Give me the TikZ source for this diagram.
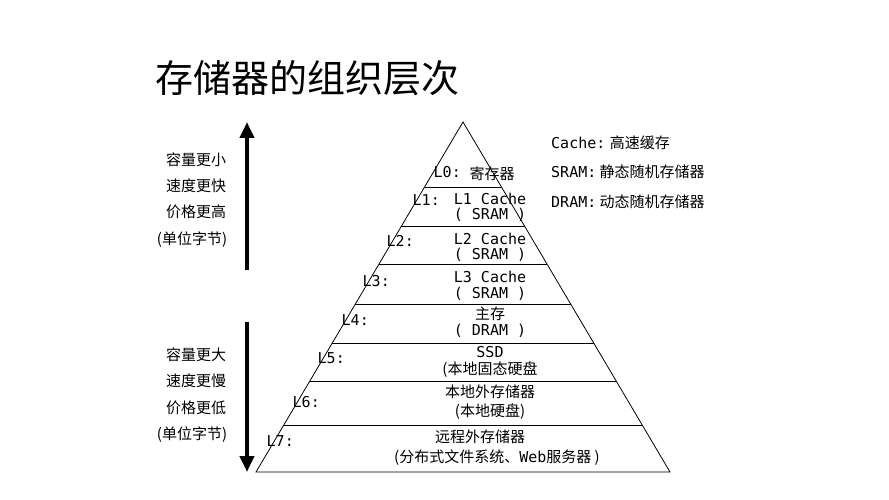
\documentclass[tikz,border=0pt]{standalone}
\usepackage{fontspec}
\setmainfont{Noto Sans CJK SC}
\newfontfamily\latn{DejaVu Sans Mono}
\usetikzlibrary{arrows.meta}
\begin{document}
\begin{tikzpicture}[x=1pt,y=-1pt,
    txt/.style={font=\fontsize{15}{17}\selectfont,inner sep=0pt},
    lvl/.style={txt,anchor=east},
    bigarrow/.style={line width=4pt,-{Triangle[length=16pt,width=14pt]}},
  ]
\useasboundingbox (0,0) rectangle (889,500);

%% title
\node[anchor=west,inner sep=0pt,font=\fontsize{38}{40}\selectfont] (title) at (155,78) {存储器的组织层次};

%% pyramid
\coordinate (apex) at (463,122);
\coordinate (bl) at (256,472);
\coordinate (br) at (670,472);
\draw[thick] (bl) -- (apex) -- (br) -- cycle;
\foreach \y in {187,226,264,304,343,381,425}{
  \pgfmathsetmacro{\hw}{(\y-122)*0.5914}
  \draw[thick] (463-\hw,\y) -- (463+\hw,\y);
}

%% row contents
\node[txt] (r0) at (492,174) {寄存器};
\node[txt] (r1a) at (490,199) {{\latn L1 Cache}};
\node[txt] (r1b) at (490,215) {{\latn ( SRAM )}};
\node[txt] (r2a) at (490,239) {{\latn L2 Cache}};
\node[txt] (r2b) at (490,255) {{\latn ( SRAM )}};
\node[txt] (r3a) at (490,277) {{\latn L3 Cache}};
\node[txt] (r3b) at (490,294) {{\latn ( SRAM )}};
\node[txt] (r4a) at (490,314) {主存};
\node[txt] (r4b) at (490,331) {{\latn ( DRAM )}};
\node[txt] (r5a) at (490,352) {{\latn SSD}};
\node[txt] (r5b) at (490,370) {(本地固态硬盘};
\node[txt] (r6a) at (490,392) {本地外存储器};
\node[txt] (r6b) at (490,412) {(本地硬盘)};
\node[txt] (r7a) at (480,437) {远程外存储器};
\node[txt] (r7b) at (497,458) {(分布式文件系统、{\latn Web}服务器 )};

%% level labels
\node[lvl] (l0) at (461,172) {{\latn L0:}};
\node[lvl] (l1) at (440,200) {{\latn L1:}};
\node[lvl] (l2) at (414,241) {{\latn L2:}};
\node[lvl] (l3) at (390,281) {{\latn L3:}};
\node[lvl] (l4) at (369,320) {{\latn L4:}};
\node[lvl] (l5) at (345,358) {{\latn L5:}};
\node[lvl] (l6) at (320,402) {{\latn L6:}};
\node[lvl] (l7) at (294,441) {{\latn L7:}};

%% legend
\node[txt,anchor=west] (c) at (551,143) {{\latn Cache:} 高速缓存};
\node[txt,anchor=west] (s) at (551,172) {{\latn SRAM:} 静态随机存储器};
\node[txt,anchor=west] (d) at (551,202) {{\latn DRAM:} 动态随机存储器};

%% arrows
\coordinate (upS) at (247,270);
\coordinate (upE) at (247,122);
\coordinate (dnS) at (247,322);
\coordinate (dnE) at (247,472);
\draw[bigarrow] (upS) -- (upE);
\draw[bigarrow] (dnS) -- (dnE);

%% side texts
\node[txt] (u1) at (196,160) {容量更小};
\node[txt] (u2) at (196,186) {速度更快};
\node[txt] (u3) at (196,212) {价格更高};
\node[txt] (u4) at (192,240) {(单位字节)};
\node[txt] (d1) at (196,355) {容量更大};
\node[txt] (d2) at (196,381) {速度更慢};
\node[txt] (d3) at (196,408) {价格更低};
\node[txt] (d4) at (192,435) {(单位字节)};
\end{tikzpicture}
\end{document}
